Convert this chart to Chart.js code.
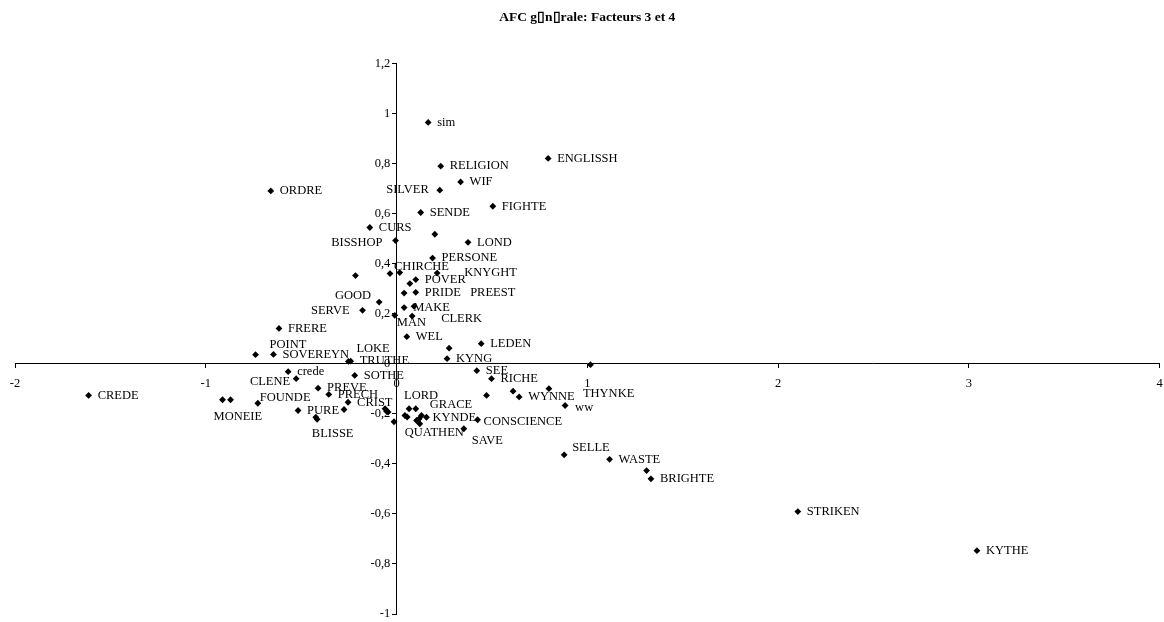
<!DOCTYPE html>
<html>
<head>
<meta charset="utf-8">
<title>AFC générale: Facteurs 3 et 4</title>
<script src="https://cdn.jsdelivr.net/npm/chart.js@4.4.0/dist/chart.umd.min.js"></script>
<style>
  html, body { margin: 0; padding: 0; background: #fff; }
  #wrap { width: 1164px; height: 622px; }
</style>
</head>
<body>
<div id="wrap"><canvas id="afc" width="1164" height="622"></canvas></div>
<script>
/* AFC scatter - factor 3 (x) vs factor 4 (y) */

const TITLE = 'AFC g\u25AFn\u25AFrale: Facteurs 3 et 4';

// coordinates, one entry per point
const factor3 = [
  0.166, 0.232, 0.336, 0.227, 0.795, 0.505, 0.127, -0.659, -0.140, 0.201,
  -0.005, 0.375, 0.189, -0.034, 0.017, 0.213, -0.215, 0.101, 0.070, 0.101,
  0.040, -0.091, 0.040, 0.092, -0.178, -0.009, 0.082, -0.616, 0.054, 0.276,
  0.444, -0.739, -0.645, -0.252, -0.240, 0.265, 0.421, -0.568, -0.219, 0.498,
  -0.526, -0.411, -0.355, -0.254, -0.912, -0.870, -0.727, -0.516, -0.275, -0.423,
  -0.416, -0.060, -0.052, -0.044, -0.013, 0.066, 0.101, 0.044, 0.056, 0.157,
  0.131, 0.119, 0.105, 0.122, 0.472, 0.425, 0.353, 0.643, 0.611, 0.799,
  0.884, 1.017, 0.879, 1.117, 1.311, 1.334, 2.104, 3.043, -1.614
];
const factor4 = [
  0.964, 0.789, 0.726, 0.693, 0.820, 0.629, 0.604, 0.690, 0.544, 0.517,
  0.492, 0.485, 0.422, 0.360, 0.364, 0.362, 0.352, 0.336, 0.320, 0.285,
  0.282, 0.246, 0.224, 0.229, 0.213, 0.193, 0.190, 0.141, 0.108, 0.062,
  0.080, 0.036, 0.037, 0.009, 0.010, 0.020, -0.028, -0.032, -0.047, -0.060,
  -0.060, -0.098, -0.123, -0.154, -0.144, -0.144, -0.158, -0.187, -0.183, -0.214,
  -0.222, -0.180, -0.190, -0.193, -0.232, -0.180, -0.180, -0.207, -0.213, -0.214,
  -0.207, -0.220, -0.227, -0.240, -0.127, -0.224, -0.260, -0.133, -0.110, -0.100,
  -0.167, -0.004, -0.364, -0.382, -0.427, -0.460, -0.591, -0.747, -0.127
];
const words = [
  'sim', 'RELIGION', 'WIF', 'SILVER', 'ENGLISSH', 'FIGHTE', 'SENDE', 'ORDRE', 'CURS', '',
  'BISSHOP', 'LOND', 'PERSONE', 'CHIRCHE', '', 'KNYGHT', '', 'POVER', '', 'PRIDE',
  'PREEST', 'GOOD', 'MAKE', '', 'SERVE', 'MAN', 'CLERK', 'FRERE', 'WEL', '',
  'LEDEN', 'POINT', 'SOVEREYN', 'LOKE', 'TRUTHE', 'KYNG', 'SEE', 'crede', 'SOTHE', 'RICHE',
  'CLENE', 'PREVE', 'PRECH', 'CRIST', 'MONEIE', '', 'FOUNDE', 'PURE', '', 'BLISSE',
  '', '', '', '', '', 'LORD', 'GRACE', '', '', 'KYNDE',
  '', '', '', 'QUATHEN', '', 'CONSCIENCE', 'SAVE', 'WYNNE', '', 'THYNKE',
  'ww', '', 'SELLE', 'WASTE', '', 'BRIGHTE', 'STRIKEN', 'KYTHE', 'CREDE'
];

// label placement (px from the marker); anything not listed sits to the right
const LABEL_DX = 9;
const labelShift = {
  SILVER: { dx: -11, dy: 0, align: 'right' },
  BISSHOP: { dx: -13, dy: 2, align: 'right' },
  CHIRCHE: { dx: 4, dy: -7 },
  KNYGHT: { dx: 27, dy: 0 },
  PREEST: { dx: 66, dy: 0 },
  GOOD: { dx: -8, dy: -6, align: 'right' },
  SERVE: { dx: -13, dy: 0, align: 'right' },
  MAN: { dx: 2, dy: 7 },
  CLERK: { dx: 29, dy: 3 },
  POINT: { dx: 14, dy: -10 },
  LOKE: { dx: 8, dy: -13 },
  CLENE: { dx: -6, dy: 3, align: 'right' },
  MONEIE: { dx: -9, dy: 17 },
  FOUNDE: { dx: 2, dy: -6 },
  BLISSE: { dx: -4, dy: 16 },
  LORD: { dx: -5, dy: -13 },
  GRACE: { dx: 14, dy: -4 },
  KYNDE: { dx: 6, dy: 0 },
  QUATHEN: { dx: -15, dy: 9 },
  CONSCIENCE: { dx: 6, dy: 2 },
  SAVE: { dx: 8, dy: 12 },
  THYNKE: { dx: 34, dy: 5 },
  ww: { dx: 10, dy: 2 },
  SELLE: { dx: 8, dy: -7 }
};

const SERIF = "'Liberation Serif', 'Times New Roman', serif";
const FONT_SIZE = 12.5;

const points = factor3.map((x, i) => ({ x, y: factor4[i] }));

function fmtTick(v){
  const r = Math.round(v * 10) / 10;
  return String(r).replace('.', ',');
}

// scales sitting on the other axis don't need extra margin for their labels
function noEdgePadding(scale){
  scale.paddingTop = 0; scale.paddingBottom = 0;
  scale.paddingLeft = 0; scale.paddingRight = 0;
}

/* ---------- point labels ---------- */
const wordLabels = {
  id: 'wordLabels',
  afterDatasetsDraw(chart){
    const ctx = chart.ctx;
    const meta = chart.getDatasetMeta(0);
    ctx.save();
    ctx.font = `${FONT_SIZE}px ${SERIF}`;
    ctx.fillStyle = '#000';
    ctx.textBaseline = 'middle';
    meta.data.forEach((el, i) => {
      const w = words[i];
      if(!w) return;
      const s = labelShift[w] || { dx: LABEL_DX, dy: 0 };
      ctx.textAlign = s.align || 'left';
      ctx.fillText(w, el.x + s.dx, el.y + s.dy);
    });
    ctx.restore();
  }
};

Chart.defaults.color = '#000';
Chart.defaults.font.family = SERIF;
Chart.defaults.font.size = FONT_SIZE;

new Chart(document.getElementById('afc').getContext('2d'), {
  type: 'scatter',
  data: {
    datasets: [{
      data: points,
      pointStyle: 'rectRot',
      radius: 3.4,
      hoverRadius: 3.4,
      backgroundColor: '#000',
      borderColor: '#000',
      borderWidth: 0
    }]
  },
  options: {
    responsive: false,
    animation: false,
    events: [],
    layout: { padding: { left: 15, right: 4.5, top: 0, bottom: 8 } },
    plugins: {
      legend: { display: false },
      tooltip: { enabled: false },
      title: {
        display: true,
        text: TITLE,
        color: '#000',
        font: { family: SERIF, size: 13.5, weight: 'bold' },
        padding: { top: 9, bottom: 38.1 }
      }
    },
    scales: {
      x: {
        type: 'linear',
        position: { y: 0 },
        min: -2, max: 4,
        afterFit: noEdgePadding,
        ticks: { stepSize: 1, padding: 8.5, maxRotation: 0, callback: fmtTick },
        grid: { drawOnChartArea: false, drawTicks: true, tickLength: 4, color: '#000' },
        border: { display: true, color: '#000', width: 1 }
      },
      y: {
        type: 'linear',
        position: { x: 0 },
        min: -1, max: 1.2,
        afterFit: noEdgePadding,
        // labels are right-aligned on the axis line, trailing spaces push them off it
        ticks: { stepSize: 0.2, callback: v => fmtTick(v) + '  ' },
        grid: { drawOnChartArea: false, drawTicks: true, tickLength: 4, color: '#000' },
        border: { display: true, color: '#000', width: 1 }
      }
    }
  },
  plugins: [wordLabels]
});
</script>
</body>
</html>
